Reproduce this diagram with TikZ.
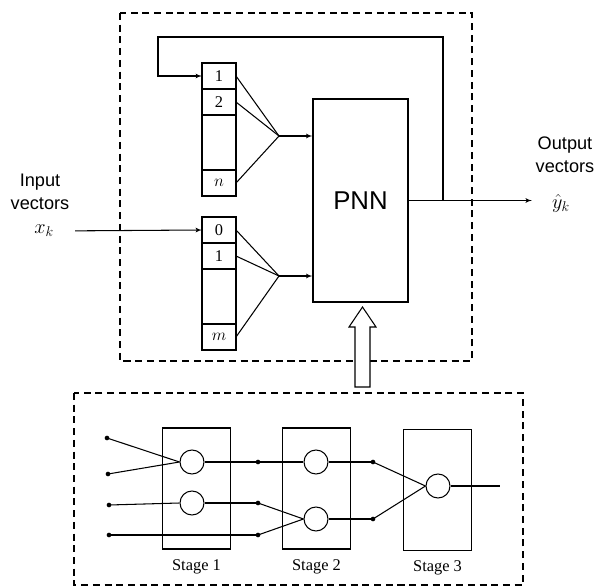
\documentclass[tikz,border=0pt]{standalone}
\usepackage{fontspec}
\setmainfont{Liberation Serif}
\setsansfont{Liberation Sans}
\usetikzlibrary{arrows, positioning, calc}

\begin{document}
\begin{tikzpicture}[
        x=0.03cm, y=-0.03cm,
        cell/.style={rectangle, draw=black, line width=0.9pt, minimum width=1.02cm, minimum height=0.78cm, inner sep=0pt, outer sep=0pt, font=\fontsize{14}{16}\selectfont},
        gapcell/.style={cell, minimum height=1.65cm},
        block/.style={rectangle, draw=black, line width=0.9pt, minimum width=2.85cm, minimum height=6.09cm, font=\sffamily\fontsize{22}{26}\selectfont},
        stagebox/.style={rectangle, draw=black, line width=0.9pt, minimum width=2.05cm, minimum height=3.63cm},
        stagelab/.style={font=\fontsize{14}{16}\selectfont},
        neuron/.style={circle, draw=black, line width=0.9pt, minimum size=0.72cm, inner sep=0pt},
        dot/.style={circle, fill=black, inner sep=0pt, minimum size=4pt},
        iolab/.style={font=\sffamily\fontsize{15.5}{20}\selectfont, align=center},
        vec/.style={font=\fontsize{18}{20}\selectfont, inner sep=0pt},
        dashbox/.style={draw, line width=1.3pt, dash pattern=on 6pt off 4pt},
        line/.style={draw, line width=0.9pt, -latex'},
        wire/.style={draw, line width=0.9pt}
    ]
        \useasboundingbox (0,0) rectangle (603,587);

        % upper part
        \draw[dashbox] (120,13) rectangle (472,361);

        \node[cell] (c1) at (219,76) {1};
        \node[cell, below=0pt of c1] (c2) {2};
        \node[gapcell, below=0pt of c2] (c3) {};
        \node[cell, below=0pt of c3] (cn) {$n$};

        \node[cell] (r0) at (219,230) {0};
        \node[cell, below=0pt of r0] (r1) {1};
        \node[gapcell, below=0pt of r1] (r2) {};
        \node[cell, below=0pt of r2] (rm) {$m$};

        \node[block] (pnn) at (360.5,200.5) {PNN};

        \coordinate (f1) at (279,136);
        \coordinate (f2) at (279,276);
        \coordinate (tapx) at (443,0);
        \coordinate (fbtop) at (443,37);
        \coordinate (fbleft) at (158,37);

        \node[iolab] (inlab) at (40,192) {Input\\vectors};
        \node[vec] (xk) at (44,231) {$x_k$};
        \node[iolab] (outlab) at (565,155) {Output\\vectors};
        \node[vec] (yk) at (561,203) {$\hat{y}_k$};

        \draw[wire] (c1.east) -- (f1);
        \draw[wire] (c2.east) -- (f1);
        \draw[wire] (cn.east) -- (f1);
        \draw[line] (f1) -- (f1 -| pnn.west);

        \draw[wire] (r0.east) -- (f2);
        \draw[wire] (r1.east) -- (f2);
        \draw[wire] (rm.east) -- (f2);
        \draw[line] (f2) -- (f2 -| pnn.west);

        \draw[line, shorten <=18pt] (xk.east) -- (r0.west);
        \draw[line, shorten >=17pt] (pnn.east) -- (pnn.east -| yk.west);
        \draw[line] (tapx |- pnn.east) -- (fbtop) -- (fbleft) |- (c1.west);

        % lower part
        \draw[dashbox] (74,393) rectangle (523,585);

        \node[stagebox] (s1) at (196.5,488.5) {};
        \node[stagebox] (s2) at (316.5,488.5) {};
        \node[stagebox] (s3) at (437.5,490) {};
        \node[stagelab, below=5pt of s1] (s1lab) {Stage 1};
        \node[stagelab, below=5pt of s2] (s2lab) {Stage 2};
        \node[stagelab, below=5pt of s3] (s3lab) {Stage 3};

        \node[neuron] (n11) at (192,462) {};
        \node[neuron] (n12) at (192,503) {};
        \node[neuron] (n21) at (316,462) {};
        \node[neuron] (n22) at (316,519) {};
        \node[neuron] (n3) at (438,486) {};

        \node[dot] (d1) at (107,438) {};
        \node[dot] (d2) at (108,474) {};
        \node[dot] (d3) at (109,505) {};
        \node[dot] (d4) at (109,535) {};
        \node[dot] (m1) at (258,462) {};
        \node[dot] (m2) at (258,503) {};
        \node[dot] (m3) at (258,535) {};
        \node[dot] (k1) at (373,462) {};
        \node[dot] (k2) at (373,519) {};
        \coordinate (yend) at (500,486);

        \draw[wire] (d1.center) -- (n11.west);
        \draw[wire] (d2.center) -- (n11.west);
        \draw[wire] (d3.center) -- (n12.west);
        \draw[wire] (d4.center) -- (m3.center);
        \draw[wire] (n11.east) -- (m1.center) -- (n21.west);
        \draw[wire] (n12.east) -- (m2.center);
        \draw[wire] (m2.center) -- (n22.west);
        \draw[wire] (m3.center) -- (n22.west);
        \draw[wire] (n21.east) -- (k1.center);
        \draw[wire] (n22.east) -- (k2.center);
        \draw[wire] (k1.center) -- (n3.west);
        \draw[wire] (k2.center) -- (n3.west);
        \draw[wire] (n3.east) -- (yend);

        % hollow arrow into the PNN
        \draw[line width=0.9pt, fill=white] (355,387) -- (355,327) -- (349,327) -- (362.5,307)
            -- (376,327) -- (370,327) -- (370,387) -- cycle;

    \end{tikzpicture}
\end{document}
